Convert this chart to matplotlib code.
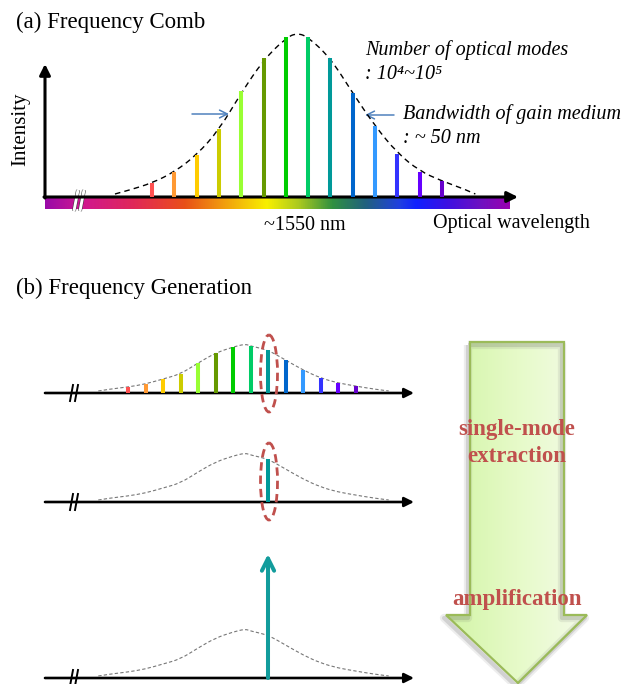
import numpy as np
import matplotlib
matplotlib.use("Agg")
import matplotlib.pyplot as plt
from matplotlib.colors import LinearSegmentedColormap
from matplotlib.patches import Polygon, Ellipse, PathPatch
from matplotlib.path import Path

# ---------------- data ----------------
mode_index = list(range(14))
mode_colors = ["#ff5050", "#ff9933", "#ffcc00", "#cccc00", "#99ff33", "#669900",
               "#00cc00", "#00cc66", "#009999", "#0066cc", "#3399ff", "#3333ff",
               "#6600ff", "#6600cc"]
intensity_comb = [14, 25, 42, 68, 106, 139, 160, 160, 139, 104, 71, 43, 25, 16]
env_pos_comb = [-1.66, -1.0, 0, 1, 2, 3, 4, 5, 6, 6.5, 7, 8, 9, 10, 11, 12, 13, 14, 14.5]
env_comb = [3, 7, 14, 25, 42, 67, 104, 137, 159, 164, 160, 139, 104, 71, 44, 26, 16, 8, 3]

intensity_gen = [6, 9, 14, 19, 30, 40, 46, 47, 43, 33, 23, 15, 10, 7]
env_pos_gen = [-1.7, -1, 0, 1, 2, 3, 4, 5, 6, 6.7, 7, 8, 9, 10, 11, 12, 13, 14, 14.9]
env_gen = [2, 4, 6, 9, 14, 19, 30, 40, 46, 49, 47, 43, 33, 23, 15, 10, 7, 4, 2]
selected_mode = 8
amplified_intensity = 124

spectrum_stops = [0.0, 0.08, 0.19, 0.26, 0.30, 0.37, 0.477, 0.548, 0.619, 0.692,
                  0.763, 0.80, 0.871, 0.942, 1.0]
spectrum_colors = ["#9a0aa8", "#d0188f", "#e02858", "#e84030", "#e85018", "#f09010",
                   "#f8f000", "#a8c820", "#309040", "#206080", "#2040e0", "#1020ff",
                   "#4010e0", "#7010c0", "#9a00b0"]

SERIF = ["Liberation Serif", "DejaVu Serif"]
W, H = 637, 684
fig = plt.figure(figsize=(W / 100, H / 100), dpi=100)

def pixel_axes():
    a = fig.add_axes([0, 0, 1, 1])
    a.set_xlim(0, W)
    a.set_ylim(H, 0)
    a.axis("off")
    a.patch.set_visible(False)
    return a

def data_axes(px_left, px_right, px_base, px_top, xlim, ylim):
    a = fig.add_axes([px_left / W, 1 - px_base / H, (px_right - px_left) / W,
                      (px_base - px_top) / H])
    a.set_xlim(*xlim)
    a.set_ylim(*ylim)
    a.axis("off")
    a.patch.set_visible(False)
    return a

def smooth_curve(ax, xs, ys, **kw):
    pts = list(zip(xs, ys))
    verts = [pts[0]]
    codes = [Path.MOVETO]
    n = len(pts)
    for i in range(1, n - 1):
        verts.append(pts[i])
        codes.append(Path.CURVE3)
        if i < n - 2:
            verts.append(((pts[i][0] + pts[i + 1][0]) / 2, (pts[i][1] + pts[i + 1][1]) / 2))
        else:
            verts.append(pts[-1])
        codes.append(Path.CURVE3)
    ax.add_patch(PathPatch(Path(verts, codes), fill=False, clip_on=False, **kw))

bg = pixel_axes()

def arrow(ax, start, end, lw, color="black", ms=14, style="-|>"):
    ax.annotate("", xy=end, xytext=start,
                arrowprops=dict(arrowstyle=style, lw=lw, color=color,
                                mutation_scale=ms, shrinkA=0, shrinkB=0))

# ---------------- panel (a) ----------------
bg.text(16, 28, "(a) Frequency Comb", fontsize=16.5, family=SERIF, va="baseline")
cmap = LinearSegmentedColormap.from_list("spec", list(zip(spectrum_stops, spectrum_colors)))
grad = np.linspace(0, 1, 512)[None, :]
bg.imshow(grad, cmap=cmap, extent=[45, 510, 209, 198], aspect="auto", interpolation="bilinear")
bg.set_xlim(0, W); bg.set_ylim(H, 0)
arrow(bg, (44, 197), (518, 197), lw=2.2, ms=16)
arrow(bg, (45, 198), (45, 64), lw=2.2, ms=16)
for dx in (0, 6):
    bg.plot([74 + dx, 78 + dx], [211, 190], color="#333333", lw=2.8, solid_capstyle="butt")
    bg.plot([74 + dx, 78 + dx], [211, 190], color="white", lw=2.1, solid_capstyle="butt")
bg.text(21, 129, "Intensity", fontsize=15, family=SERIF, rotation=90, ha="center", va="center")
bg.text(305, 230, "~1550 nm", fontsize=14.5, family=SERIF, ha="center", va="baseline")
bg.text(433, 228, "Optical wavelength", fontsize=14.5, family=SERIF, va="baseline")
bg.text(365, 55, "Number of optical modes", fontsize=14.5, family=SERIF, style="italic", va="baseline")
bg.text(365, 79, ": 10\u2074~10\u2075", fontsize=14.5, family=SERIF, style="italic", va="baseline")
bg.text(403, 119, "Bandwidth of gain medium", fontsize=14.5, family=SERIF, style="italic", va="baseline")
bg.text(403, 143, ": ~ 50 nm", fontsize=14.5, family=SERIF, style="italic", va="baseline")
arrow(bg, (192, 114), (229, 114), lw=1.1, color="#4f81bd", ms=14, style="->")
arrow(bg, (394, 115), (365, 115), lw=1.1, color="#4f81bd", ms=14, style="->")

# ---------------- panel (b) ----------------
bg.text(16, 294, "(b) Frequency Generation", fontsize=16.5, family=SERIF, va="baseline")
row_bases = [393, 502, 678]
for yb in row_bases:
    arrow(bg, (45, yb), (414, yb), lw=1.9, ms=14)
    for dx in (0, 5):
        bg.plot([70 + dx, 73 + dx], [yb + 8, yb - 8], color="black", lw=1.4)

# big green arrow
shape = [(470, 342), (564, 342), (564, 615), (587, 615), (518, 683), (446, 615), (470, 615)]
for off, a_, lw in [((-2, 3), 0.10, 6), ((-2, 3), 0.18, 3)]:
    bg.add_patch(Polygon([(x + off[0], y + off[1]) for x, y in shape], closed=True,
                         facecolor="none", edgecolor="#555555", alpha=a_, lw=lw, joinstyle="round"))
fill = Polygon(shape, closed=True, facecolor="none", edgecolor="none")
bg.add_patch(fill)
gcm = LinearSegmentedColormap.from_list("g", ["#d2f5a6", "#e6fac8", "#f4fbe8"])
im = bg.imshow(np.linspace(0, 1, 256)[None, :], cmap=gcm, extent=[446, 587, 684, 342],
               aspect="auto", interpolation="bilinear")
im.set_clip_path(fill)
bg.add_patch(Polygon(shape, closed=True, facecolor="none", edgecolor="#9bbb59", lw=1.6))
bg.set_xlim(0, W); bg.set_ylim(H, 0)
for txt, yy in [("single-mode", 435), ("extraction", 462), ("amplification", 605)]:
    bg.text(517, yy, txt, fontsize=16.5, family=SERIF, weight="bold", color="#c0504d",
            ha="center", va="baseline")

# ---------------- data layers ----------------
# panel (a): modes spaced 22.3 px starting at x=152, baseline y=197
axa = data_axes(152 - 22.3 * 2, 152 + 22.3 * 16, 197, 27, (-2, 16), (0, 170))
axa.vlines(mode_index, 0, intensity_comb, colors=mode_colors, lw=2.9)
smooth_curve(axa, env_pos_comb, env_comb, edgecolor="black", lw=1.0, linestyle=(0, (4, 3)))

# panel (b): modes spaced 17.5 px starting at x=128
rows = []
for yb in row_bases:
    rows.append(data_axes(128 - 17.5 * 2, 128 + 17.5 * 16, yb, yb - 130, (-2, 16), (0, 130)))
for r in rows:
    smooth_curve(r, env_pos_gen, env_gen, edgecolor="#777777", lw=0.8, linestyle=(0, (3, 2)))
rows[0].vlines(mode_index, 0, intensity_gen, colors=mode_colors, lw=2.9)
rows[1].vlines([selected_mode], 0, [intensity_gen[selected_mode]],
               colors=[mode_colors[selected_mode]], lw=2.9)
rows[2].annotate("", xy=(selected_mode, amplified_intensity), xytext=(selected_mode, 0),
                 arrowprops=dict(arrowstyle="->", lw=2.9, color="#129c9c",
                                 mutation_scale=22, shrinkA=0, shrinkB=0),
                 annotation_clip=False)

# ---------------- foreground: selection ellipses ----------------
fg = pixel_axes()
for yc in (373.5, 481.5):
    fg.add_patch(Ellipse((269, yc), 17, 77, fill=False, edgecolor="#c0504d", lw=2.0,
                         linestyle=(0, (3, 1.8))))

fig.savefig("out.png", dpi=100)
